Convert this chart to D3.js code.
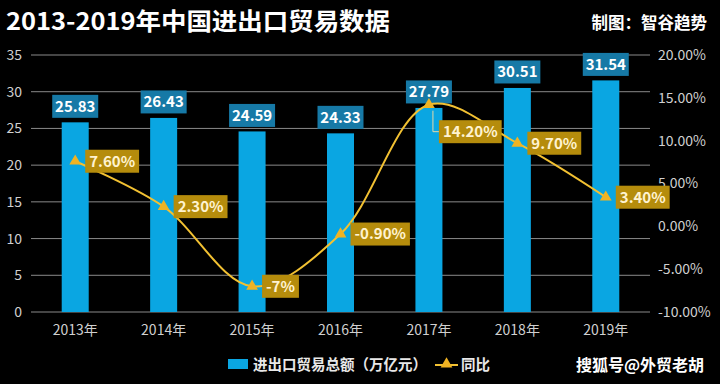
<!DOCTYPE html>
<html><head><meta charset="utf-8">
<script src="https://cdn.jsdelivr.net/npm/d3@7"></script>
<style>
html,body{margin:0;padding:0;background:#000;}
svg{display:block;font-family:"Noto Sans CJK SC","Noto Sans",sans-serif;}
</style></head>
<body><svg id="c" width="720" height="384"></svg>
<script>
const years = ["2013年","2014年","2015年","2016年","2017年","2018年","2019年"];
const totals = [25.83,26.43,24.59,24.33,27.79,30.51,31.54];
const growth = [7.6,2.3,-7,-0.9,14.2,9.7,3.4];
const growthLabels = ["7.60%","2.30%","-7%","-0.90%","14.20%","9.70%","3.40%"];
const leftTicks = [0,5,10,15,20,25,30,35];
const rightTicks = [-10,-5,0,5,10,15,20];

const svg = d3.select("#c");
const L = 31, R = 650, T = 55, B = 312;
const x = d3.scaleBand().domain(years).range([L,R]).paddingInner(0).paddingOuter(0);
const yL = d3.scaleLinear().domain([0,35]).range([B,T]);
const yR = d3.scaleLinear().domain([-10,20]).range([B,T]);

// title
svg.append("text").attr("x",6).attr("y",30).attr("fill","#fff").attr("font-size",24).attr("font-weight","bold")
  .attr("textLength",384).attr("lengthAdjust","spacingAndGlyphs").text("2013-2019年中国进出口贸易数据");
svg.append("text").attr("x",707).attr("y",29).attr("text-anchor","end").attr("fill","#fff").attr("font-size",16.5).attr("font-weight","bold").text("制图：智谷趋势");

// grid
svg.append("g").selectAll("line").data(leftTicks).join("line")
  .attr("x1",L).attr("x2",R).attr("y1",d=>yL(d)).attr("y2",d=>yL(d))
  .attr("stroke","#8a8a8a").attr("stroke-width",1);

// left axis
const la = svg.append("g").attr("transform",`translate(${L},0)`).call(d3.axisLeft(yL).tickValues(leftTicks).tickSize(0).tickPadding(9));
la.select(".domain").remove();
la.selectAll("text").attr("fill","#d0d0d0").attr("font-size",14).attr("font-family","'Noto Sans CJK SC',sans-serif");
// right axis
const ra = svg.append("g").attr("transform",`translate(${R},0)`).call(d3.axisRight(yR).tickValues(rightTicks).tickSize(0).tickPadding(8).tickFormat(d=>d.toFixed(2)+"%"));
ra.select(".domain").remove();
ra.selectAll("text").attr("fill","#d0d0d0").attr("font-size",14).attr("font-family","'Noto Sans CJK SC',sans-serif");
// x axis
const xa = svg.append("g").attr("transform",`translate(0,${B})`).call(d3.axisBottom(x).tickSize(0).tickPadding(13));
xa.select(".domain").remove();
xa.selectAll("text").attr("fill","#d0d0d0").attr("font-size",14).attr("font-family","'Noto Sans CJK SC',sans-serif");

// bars
const bw = 27;
svg.append("g").selectAll("rect").data(totals).join("rect")
  .attr("x",(d,i)=>x(years[i])+x.bandwidth()/2-bw/2).attr("width",bw)
  .attr("y",d=>yL(d)).attr("height",d=>B-yL(d)).attr("fill","#0aa6e2");

// bar labels
const bl = svg.append("g").selectAll("g").data(totals).join("g")
  .attr("transform",(d,i)=>`translate(${x(years[i])+x.bandwidth()/2},${yL(d)-16})`);
bl.append("rect").attr("x",-23).attr("y",-11.5).attr("width",46).attr("height",23).attr("fill","#1679a6");
bl.append("text").attr("text-anchor","middle").attr("dy","0.36em").attr("fill","#fff").attr("font-size",15).attr("font-weight","bold").text(d=>d.toFixed(2));

// line
const pts = growth.map((g,i)=>[x(years[i])+x.bandwidth()/2, yR(g)]);
svg.append("path").attr("d",d3.line().curve(d3.curveCatmullRom.alpha(0.5))(pts))
  .attr("fill","none").attr("stroke","#f2c132").attr("stroke-width",2);

// leader line for 2017
svg.append("line").attr("x1",pts[4][0]+4).attr("y1",pts[4][1]+6).attr("x2",pts[4][0]+4).attr("y2",pts[4][1]+27).attr("stroke","#e6d9a8").attr("stroke-width",1);
svg.append("line").attr("x1",pts[4][0]+4).attr("y1",pts[4][1]+27).attr("x2",pts[4][0]+10).attr("y2",pts[4][1]+27).attr("stroke","#e6d9a8").attr("stroke-width",1);

// markers
const tri = d3.symbol().type(d3.symbolTriangle).size(60);
svg.append("g").selectAll("path").data(pts).join("path")
  .attr("transform",d=>`translate(${d[0]},${d[1]})`).attr("d",tri).attr("fill","#f0b323");

// growth labels
const offs = [[10,0],[10,0],[10,0],[10,0],[10,27],[10,0],[10,0]];
const gl = svg.append("g").selectAll("g").data(growth).join("g")
  .attr("transform",(d,i)=>`translate(${pts[i][0]+offs[i][0]},${pts[i][1]+offs[i][1]})`);
gl.append("text").attr("x",4).attr("dy","0.36em").attr("fill","#fff3d0").attr("font-size",15).attr("font-weight","bold").text((d,i)=>growthLabels[i]);
gl.each(function(){
  const g = d3.select(this), t = g.select("text"), bb = t.node().getBBox();
  g.insert("rect","text").attr("x",0).attr("y",-11.5).attr("width",bb.width+8).attr("height",23).attr("fill","#b58c0c");
});

// legend
const lg = svg.append("g");
lg.append("rect").attr("x",228).attr("y",359).attr("width",20).attr("height",10).attr("fill","#0aa6e2");
lg.append("text").attr("x",253).attr("y",370).attr("fill","#e8e8e8").attr("font-size",14.5).attr("font-weight","bold").text("进出口贸易总额（万亿元）");
lg.append("line").attr("x1",435).attr("x2",458).attr("y1",365).attr("y2",365).attr("stroke","#f2c132").attr("stroke-width",2);
lg.append("path").attr("transform","translate(446.5,364)").attr("d",tri).attr("fill","#f0b323");
lg.append("text").attr("x",461).attr("y",370).attr("fill","#e8e8e8").attr("font-size",14.5).attr("font-weight","bold").text("同比");

// watermark
svg.append("text").attr("x",704).attr("y",371).attr("text-anchor","end").attr("fill","#fff").attr("font-size",16).attr("font-weight","bold").text("搜狐号@外贸老胡");
</script></body></html>
